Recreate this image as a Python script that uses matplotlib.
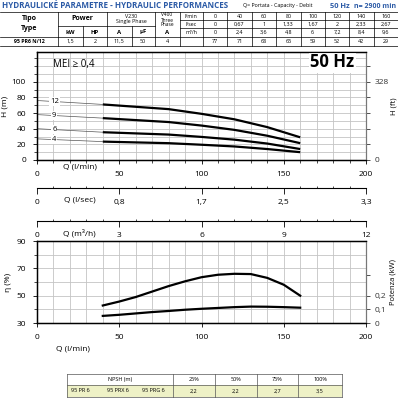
import matplotlib
matplotlib.use("Agg")
import matplotlib.pyplot as plt
from matplotlib.ticker import MultipleLocator, FixedLocator

plt.rcParams['font.family'] = ['Open Sans', 'DejaVu Sans']

W, H = 398, 400
BLUE = "#2b5aa6"
GRID = "#c4c4c4"

# ---- data ----
q_table = [0, 40, 60, 80, 100, 120, 140, 160]
ls_table = ["0", "0,67", "1", "1,33", "1,67", "2", "2,33", "2,67"]
m3h_table = ["0", "2,4", "3,6", "4,8", "6", "7,2", "8,4", "9,6"]
h_table = ["77", "71", "68", "65", "59", "52", "42", "29"]

model = "95 PR6 N/12"
power_kw, power_hp = "1,5", "2"
amp_230, cap_uf, amp_400 = "11,5", "50", "4"

q_curve = [40, 60, 80, 100, 120, 140, 160]
h_12 = [71, 68, 65, 59, 52, 42, 29]
h_9 = [53.5, 51, 48.5, 44, 38.5, 31, 21.5]
h_6 = [35.5, 34, 32.5, 29.5, 26, 21, 14]
h_4 = [23.5, 22.5, 21.5, 19.5, 17.3, 14, 10]
stages = ["12", "9", "6", "4"]
stage_axis_h = [76, 58, 40, 27]   # where leader lines meet the axis

q_eff = [40, 50, 60, 70, 80, 90, 100, 110, 120, 130, 140, 150, 160]
eff = [42.8, 45.7, 49, 53, 57, 60.5, 63.5, 65.3, 66, 65.8, 63, 58, 50]
pwr = [0.052, 0.06, 0.07, 0.08, 0.088, 0.097, 0.104, 0.11, 0.116, 0.12, 0.119, 0.116, 0.112]

q_major = [0, 50, 100, 150, 200]
ls_labels = ["0", "0,8", "1,7", "2,5", "3,3"]
m3h_labels = ["0", "3", "6", "9", "12"]

npsh_head = ["25%", "50%", "75%", "100%"]
npsh_vals = ["2,2", "2,2", "2,7", "3,5"]
npsh_models = ["95 PR 6", "95 PRX 6", "95 PRG 6"]


def rect(l, t, r, b):
    return [l / W, 1 - b / H, (r - l) / W, (b - t) / H]


fig = plt.figure(figsize=(W / 100, H / 100), dpi=100)

# overlay in pixel coordinates for tables and header
ov = fig.add_axes([0, 0, 1, 1])
ov.set_xlim(0, W)
ov.set_ylim(H, 0)
ov.axis("off")

ov.text(2, 6, "HYDRAULICKÉ PARAMETRE - HYDRAULIC PERFORMANCES", color=BLUE,
        fontsize=5.8, fontweight="bold", va="center", ha="left")
ov.text(243, 6, "Q= Portata - Capacity - Debit", fontsize=3.8, va="center", ha="left")
ov.text(330, 6, "50 Hz", color=BLUE, fontsize=5.3, fontweight="bold", va="center", ha="left")
ov.text(396, 6, "n= 2900 min", color=BLUE, fontsize=5.0, fontweight="bold", va="center", ha="right")

lk = dict(color="black", lw=0.5)
for y in (12, 37, 46):
    ov.plot([0, W], [y, y], **lk)
ov.plot([58, 155], [26, 26], **lk)
ov.plot([180, W], [20, 20], **lk)
ov.plot([180, W], [28, 28], **lk)
for x in (58, 107, 155, 180, 203):
    ov.plot([x, x], [12, 46], **lk)
for x in (83, 132):
    ov.plot([x, x], [26, 46], **lk)
col_w = (W - 203) / len(q_table)
for i in range(1, len(q_table)):
    ov.plot([203 + i * col_w] * 2, [12, 46], **lk)

fs = 4.3
ov.text(29, 19, "Tipo", fontsize=5, fontweight="bold", ha="center", va="center")
ov.text(29, 28, "Type", fontsize=5, fontweight="bold", ha="center", va="center")
ov.text(82, 18, "Power", fontsize=5, fontweight="bold", ha="center", va="center")
ov.text(70, 32, "kW", fontsize=fs, fontweight="bold", ha="center", va="center")
ov.text(95, 32, "HP", fontsize=fs, fontweight="bold", ha="center", va="center")
ov.text(131, 16, "V230", fontsize=3.8, ha="center", va="center")
ov.text(131, 21, "Single Phase", fontsize=3.8, ha="center", va="center")
ov.text(119, 32, "A", fontsize=fs, fontweight="bold", ha="center", va="center")
ov.text(143, 32, "µF", fontsize=fs, fontweight="bold", ha="center", va="center")
ov.text(167, 15, "V400", fontsize=3.5, ha="center", va="center")
ov.text(167, 20, "Three", fontsize=3.5, ha="center", va="center")
ov.text(167, 25, "Phase", fontsize=3.5, ha="center", va="center")
ov.text(167, 32, "A", fontsize=fs, fontweight="bold", ha="center", va="center")
ov.text(191, 16, "l/min", fontsize=3.8, ha="center", va="center")
ov.text(191, 24, "l/sec", fontsize=3.8, ha="center", va="center")
ov.text(191, 32.5, "m³/h", fontsize=3.8, ha="center", va="center")

ov.text(29, 41.5, model, fontsize=3.8, fontweight="bold", ha="center", va="center")
for x, s in zip((70, 95, 119, 143, 167), (power_kw, power_hp, amp_230, cap_uf, amp_400)):
    ov.text(x, 41.5, s, fontsize=3.9, ha="center", va="center")
for i in range(len(q_table)):
    cx = 203 + (i + 0.5) * col_w
    ov.text(cx, 16, str(q_table[i]), fontsize=3.9, ha="center", va="center")
    ov.text(cx, 24, ls_table[i], fontsize=3.9, ha="center", va="center")
    ov.text(cx, 32.5, m3h_table[i], fontsize=3.9, ha="center", va="center")
    ov.text(cx, 41.5, h_table[i], fontsize=3.9, ha="center", va="center")

# NPSH table
nx = [67, 173, 215, 257, 298, 342]
ov.fill_between([67, 342], 385, 397, color="#eef1c6", lw=0)
for y in (374, 385, 397):
    ov.plot([67, 342], [y, y], color="#555555", lw=0.5)
for x in nx:
    ov.plot([x, x], [374, 397], color="#555555", lw=0.5)
ov.text(120, 379.5, "NPSH (m)", fontsize=4, ha="center", va="center")
for x, s in zip((80, 118, 153), npsh_models):
    ov.text(x, 391, s, fontsize=4, ha="center", va="center")
for i in range(4):
    cx = (nx[i + 1] + nx[i + 2]) / 2
    ov.text(cx, 379.5, npsh_head[i], fontsize=4, ha="center", va="center")
    ov.text(cx, 391, npsh_vals[i], fontsize=4, ha="center", va="center")

# ---- head chart ----
ax = fig.add_axes(rect(37, 52, 366, 160))
ax.set_xlim(0, 200)
ax.set_ylim(0, 138)
ax.xaxis.set_major_locator(FixedLocator(q_major))
ax.xaxis.set_minor_locator(MultipleLocator(10))
ax.yaxis.set_major_locator(MultipleLocator(20))
ax.yaxis.set_minor_locator(MultipleLocator(10))
ax.grid(True, which="both", color=GRID, lw=0.6)
ax.set_axisbelow(True)
ax.tick_params(labelsize=6, length=3, width=0.6, pad=5)
ax.tick_params(which="minor", length=2, width=0.5)
ax.set_yticks([0, 20, 40, 60, 80, 100])
ax.set_xticklabels(["0", "50", "100", "150", "200"])
for sp in ("left", "bottom", "top"):
    ax.spines[sp].set_linewidth(1.0)
ax.spines["right"].set_color("#777777")
ax.set_ylabel("H (m)", fontsize=6, labelpad=2)
for hv, lab, ha_ in zip((h_12, h_9, h_6, h_4), stages, stage_axis_h):
    ax.plot(q_curve, hv, color="black", lw=1.6, solid_capstyle="butt")
    ax.plot([0, q_curve[0]], [ha_, hv[0]], color="#555555", lw=0.5)
    ax.text(10.5, (ha_ * 0.7 + hv[0] * 0.3), lab, fontsize=5.5, ha="center", va="center",
            bbox=dict(facecolor="white", edgecolor="none", pad=0.6))
ax.text(10, 122, "MEI ≥ 0,4", fontsize=7, ha="left", va="center")
ax.text(193, 125, "50 Hz", fontsize=12, fontweight="bold", ha="right", va="center",
        bbox=dict(facecolor="white", edgecolor="none", pad=1))
ax.text(26, -9.5, "Q (l/min)", fontsize=6, ha="center", va="center")

axr = ax.twinx()
axr.set_ylim(0, 138 * 3.28)
axr.yaxis.set_major_locator(FixedLocator([m * 3.28 for m in range(0, 130, 20)]))
axr.set_yticklabels(["0", "", "", "", "", "328", ""])
axr.tick_params(labelsize=6, length=3, width=0.6, colors="#333333")
axr.spines["right"].set_color("#777777")
axr.set_ylabel("H (ft)", fontsize=5.5, rotation=90, labelpad=1)

# ---- secondary flow scales ----
for ytop, labels, name in ((189, ls_labels, "Q (l/sec)"), (222, m3h_labels, "Q (m³/h)")):
    sx = fig.add_axes(rect(37, ytop - 1, 366, ytop))
    sx.set_xlim(0, 200)
    sx.set_ylim(0, 1)
    for sp in ("left", "right", "bottom"):
        sx.spines[sp].set_visible(False)
    sx.spines["top"].set_linewidth(0.8)
    sx.set_yticks([])
    sx.xaxis.set_ticks_position("top")
    sx.xaxis.set_major_locator(FixedLocator(q_major))
    sx.xaxis.set_minor_locator(MultipleLocator(10))
    sx.tick_params(axis="x", which="major", direction="in", length=4, width=0.6,
                   labeltop=False, labelbottom=True, bottom=False, pad=7, labelsize=6)
    sx.tick_params(axis="x", which="minor", direction="out", length=1.5, width=0.5)
    sx.set_xticklabels(labels)
    sx.text(26, -11, name, fontsize=6, ha="center", va="center")

# ---- efficiency / power chart ----
bx = fig.add_axes(rect(37, 241, 366, 323))
bx.set_xlim(0, 200)
bx.set_ylim(30, 90)
bx.xaxis.set_major_locator(FixedLocator(q_major))
bx.xaxis.set_minor_locator(MultipleLocator(10))
bx.yaxis.set_major_locator(FixedLocator([30, 50, 70, 90]))
bx.yaxis.set_minor_locator(MultipleLocator(5))
bx.set_xticklabels(["0", "50", "100", "150", "200"])
bx.grid(True, which="both", color=GRID, lw=0.6)
bx.set_axisbelow(True)
bx.tick_params(labelsize=6, length=3, width=0.6, pad=5)
bx.tick_params(which="minor", length=0)
bx.yaxis.set_ticks([40, 60, 80], minor=True)
bx.grid(True, axis="y", which="minor", color=GRID, lw=0.6)
bx.tick_params(axis="y", which="minor", length=2, width=0.5)
for sp in ("left", "bottom", "top"):
    bx.spines[sp].set_linewidth(1.0)
bx.spines["right"].set_color("#777777")
bx.set_ylabel("η (%)", fontsize=6, labelpad=3)
bx.set_xlabel("Q (l/min)", fontsize=6, labelpad=3)
bx.xaxis.set_label_coords(0.11, -0.27)
bx.plot(q_eff, eff, color="black", lw=1.6)

bxr = bx.twinx()
bxr.set_ylim(0, 0.6)
bxr.yaxis.set_major_locator(FixedLocator([0, 0.1, 0.2, 0.35]))
bxr.set_yticklabels(["0", "0,1", "0,2", ""])
bxr.tick_params(labelsize=6, length=3, width=0.6, colors="#333333")
bxr.spines["right"].set_color("#777777")
bxr.set_ylabel("Potenza (kW)", fontsize=5.5, rotation=90, labelpad=2)
bxr.plot(q_eff, pwr, color="black", lw=1.6)

fig.savefig("out.png", dpi=100)
